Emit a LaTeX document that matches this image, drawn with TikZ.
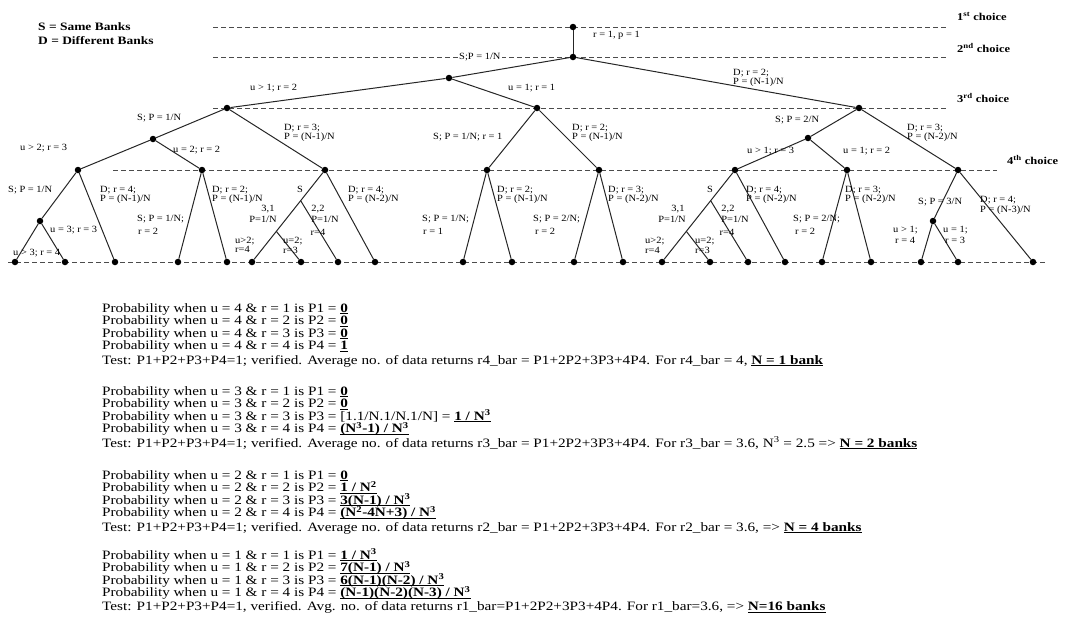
\documentclass[tikz,border=0pt]{standalone}
\usepackage{fontspec}
\setmainfont{Liberation Serif}
\newfontfamily\txtfont{Liberation Serif}[FakeStretch=1.19]
\newfontfamily\lblfont{Liberation Serif}[FakeStretch=1.1]
\usetikzlibrary{calc}
\tikzset{
  bdot/.style={circle,fill=black,inner sep=0pt,minimum size=6.5pt},
  branch/.style={draw=black!85,line width=1pt},
  guide/.style={draw=black!70,line width=0.9pt,dash pattern=on 5pt off 3pt},
  lbl/.style={anchor=mid west,inner sep=0pt,font=\lblfont\fontsize{9.5}{10}\selectfont},
  lblc/.style={anchor=mid,inner sep=0pt,font=\lblfont\fontsize{9.5}{10}\selectfont},
  txt/.style={anchor=mid west,inner sep=0pt,font=\txtfont\fontsize{12.8}{13}\selectfont},
  choicelbl/.style={anchor=mid west,inner sep=0pt,font=\txtfont\bfseries\fontsize{10.5}{11}\selectfont},
  legendlbl/.style={anchor=mid west,inner sep=0pt,font=\txtfont\bfseries\fontsize{11.3}{12}\selectfont},
}
\newcommand{\ul}[1]{\setbox0\hbox{\textbf{#1}}\rlap{\rule[-1.7pt]{\wd0}{0.8pt}}\box0}
\newcommand{\sps}[1]{\textsuperscript{#1}}
\begin{document}
\begin{tikzpicture}[x=1pt,y=-1pt]
\useasboundingbox (0,0) rectangle (1090,635);
% guide lines
\draw[guide] (213,27) -- (947,27);
\draw[guide] (213,57) -- (947,57);
\draw[guide] (213,108) -- (947,108);
\draw[guide] (113,170) -- (997,170);
\draw[guide] (8,262) -- (1047,262);
% choice labels
\node[choicelbl] (c1) at (957,18) {1\sps{st} choice};
\node[choicelbl] (c2) at (957,50) {2\sps{nd} choice};
\node[choicelbl] (c3) at (957,100) {3\sps{rd} choice};
\node[choicelbl] (c4) at (1007,162) {4\sps{th} choice};
% legend
\node[legendlbl] (lg1) at (38,28) {S = Same Banks};
\node[legendlbl] (lg2) at (38,42) {D = Different Banks};
% nodes
\node[bdot] (n1) at (573,27) {};
\node[bdot] (n2) at (573,57) {};
\node[bdot] (s1) at (449,78) {};
\node[bdot] (a) at (227,108) {};
\node[bdot] (f) at (537,108) {};
\node[bdot] (g) at (859,108) {};
\node[bdot] (b) at (153,139) {};
\node[bdot] (c) at (78,170) {};
\node[bdot] (bb) at (202,170) {};
\node[bdot] (e) at (325,170) {};
\node[bdot] (d) at (40,221) {};
\node[bdot] (fl) at (487,170) {};
\node[bdot] (fr) at (599,170) {};
\node[bdot] (h) at (808,138) {};
\node[bdot] (i) at (958,170) {};
\node[bdot] (j) at (735,170) {};
\node[bdot] (k) at (847,170) {};
\node[bdot] (m) at (933,221) {};
\foreach \n/\x in {1/15,2/65,3/115,4/178,5/227,6/252,7/301,8/338,9/375,10/463,11/512,12/574,13/623,14/662,15/710,16/748,17/785,18/822,19/871,20/921,21/958,22/1033}
  \node[bdot] (l\n) at (\x,262) {};
\coordinate (es) at ($(e)!1/3!(l6)$);
\coordinate (eb) at ($(e)!2/3!(l6)$);
\coordinate (js) at ($(j)!1/3!(l14)$);
\coordinate (jb) at ($(j)!2/3!(l14)$);
% edges
\foreach \p/\q in {n1/n2,n2/s1,n2/g,s1/a,s1/f,a/b,a/e,b/c,b/bb,c/d,c/l3,d/l1,d/l2,bb/l4,bb/l5,e/l6,e/l9,es/l8,eb/l7,f/fl,f/fr,fl/l10,fl/l11,fr/l12,fr/l13,g/h,g/i,h/j,h/k,j/l14,j/l17,js/l16,jb/l15,k/l18,k/l19,i/m,i/l22,m/l20,m/l21}
  \draw[branch] (\p) -- (\q);
% labels, top
\node[lbl] (t1) at (593,35) {r = 1, p = 1};
\node[lbl,fill=white,inner sep=1pt] (t2) at (458,57) {S;P = 1/N};
\node[lbl] (t3) at (733,73) {D; r = 2;};
\node[lbl] (t4) at (733,82) {P = (N-1)/N};
\node[lbl] (t5) at (250,88) {u > 1; r = 2};
\node[lbl] (t6) at (508,88) {u = 1; r = 1};
\node[lbl] (t7) at (137,118) {S; P = 1/N};
\node[lbl] (t8) at (284,128) {D; r = 3;};
\node[lbl] (t9) at (284,137) {P = (N-1)/N};
\node[lbl] (t10) at (775,120) {S; P = 2/N};
\node[lbl] (t11) at (907,128) {D; r = 3;};
\node[lbl] (t12) at (907,137) {P = (N-2)/N};
\node[lbl] (t13) at (20,148) {u > 2; r = 3};
\node[lbl] (t14) at (173,150) {u = 2; r = 2};
\node[lbl] (t15) at (433,137) {S; P = 1/N; r = 1};
\node[lbl] (t16) at (572,128) {D; r = 2;};
\node[lbl] (t17) at (572,137) {P = (N-1)/N};
\node[lbl] (t18) at (747,151) {u > 1; r = 3};
\node[lbl] (t19) at (843,151) {u = 1; r = 2};
% labels, lower left
\node[lbl] (t20) at (8,190) {S; P = 1/N};
\node[lbl] (t21) at (100,190) {D; r = 4;};
\node[lbl] (t22) at (100,199) {P = (N-1)/N};
\node[lbl] (t23) at (212,190) {D; r = 2;};
\node[lbl] (t24) at (212,199) {P = (N-1)/N};
\node[lbl] (t25) at (137,219) {S; P = 1/N;};
\node[lbl] (t26) at (138,232) {r = 2};
\node[lbl] (t27) at (50,230) {u = 3; r = 3};
\node[lbl] (t28) at (13,253) {u > 3; r = 4};
\node[lblc] (t29) at (300,190) {S};
\node[lbl] (t30) at (348,190) {D; r = 4;};
\node[lbl] (t31) at (348,199) {P = (N-2)/N};
\node[lblc] (t32) at (268,209) {3,1};
\node[lblc] (t33) at (263,220) {P=1/N};
\node[lblc] (t34) at (318,209) {2,2};
\node[lblc] (t35) at (325,220) {P=1/N};
\node[lblc] (t36) at (318,233) {r=4};
\node[lbl] (t37) at (235,241) {u>2;};
\node[lbl] (t38) at (235,250) {r=4};
\node[lbl] (t39) at (283,241) {u=2;};
\node[lbl] (t40) at (283,251) {r=3};
% labels, lower middle
\node[lbl] (t41) at (497,190) {D; r = 2;};
\node[lbl] (t42) at (497,199) {P = (N-1)/N};
\node[lbl] (t43) at (422,219) {S; P = 1/N;};
\node[lbl] (t44) at (423,232) {r = 1};
\node[lbl] (t45) at (608,190) {D; r = 3;};
\node[lbl] (t46) at (608,199) {P = (N-2)/N};
\node[lbl] (t47) at (533,219) {S; P = 2/N;};
\node[lbl] (t48) at (535,232) {r = 2};
% labels, lower right
\node[lblc] (t49) at (710,190) {S};
\node[lbl] (t50) at (746,190) {D; r = 4;};
\node[lbl] (t51) at (746,199) {P = (N-2)/N};
\node[lblc] (t52) at (678,209) {3,1};
\node[lblc] (t53) at (672,220) {P=1/N};
\node[lblc] (t54) at (728,209) {2,2};
\node[lblc] (t55) at (735,220) {P=1/N};
\node[lblc] (t56) at (727,233) {r=4};
\node[lbl] (t57) at (645,241) {u>2;};
\node[lbl] (t58) at (645,251) {r=4};
\node[lbl] (t59) at (695,241) {u=2;};
\node[lbl] (t60) at (695,251) {r=3};
\node[lbl] (t61) at (845,190) {D; r = 3;};
\node[lbl] (t62) at (845,199) {P = (N-2)/N};
\node[lbl] (t63) at (793,219) {S; P = 2/N;};
\node[lbl] (t64) at (795,232) {r = 2};
\node[lbl] (t65) at (918,202) {S; P = 3/N};
\node[lbl] (t66) at (980,200) {D; r = 4;};
\node[lbl] (t67) at (980,210) {P = (N-3)/N};
\node[lbl] (t68) at (893,230) {u > 1;};
\node[lbl] (t69) at (895,241) {r = 4};
\node[lbl] (t70) at (943,230) {u = 1;};
\node[lbl] (t71) at (945,241) {r = 3};
% text block u = 4
\node[txt] (p41) at (102,310) {Probability when u = 4 \& r = 1 is P1 = \ul{0}};
\node[txt] (p42) at (102,322.5) {Probability when u = 4 \& r = 2 is P2 = \ul{0}};
\node[txt] (p43) at (102,335) {Probability when u = 4 \& r = 3 is P3 = \ul{0}};
\node[txt] (p44) at (102,347.5) {Probability when u = 4 \& r = 4 is P4 = \ul{1}};
\node[txt] (p45) at (102,362) {Test: P1+P2+P3+P4=1; verified. Average no. of data returns r4\_bar = P1+2P2+3P3+4P4. For r4\_bar = 4, \ul{N = 1 bank}};
% u = 3
\node[txt] (p31) at (102,393) {Probability when u = 3 \& r = 1 is P1 = \ul{0}};
\node[txt] (p32) at (102,405.5) {Probability when u = 3 \& r = 2 is P2 = \ul{0}};
\node[txt] (p33) at (102,418) {Probability when u = 3 \& r = 3 is P3 = [1.1/N.1/N.1/N] = \ul{1 / N\sps{3}}};
\node[txt] (p34) at (102,430.5) {Probability when u = 3 \& r = 4 is P4 = \ul{(N\sps{3}-1) / N\sps{3}}};
\node[txt] (p35) at (102,445) {Test: P1+P2+P3+P4=1; verified. Average no. of data returns r3\_bar = P1+2P2+3P3+4P4. For r3\_bar = 3.6, N\sps{3} = 2.5 => \ul{N = 2 banks}};
% u = 2
\node[txt] (p21) at (102,477) {Probability when u = 2 \& r = 1 is P1 = \ul{0}};
\node[txt] (p22) at (102,489.5) {Probability when u = 2 \& r = 2 is P2 = \ul{1 / N\sps{2}}};
\node[txt] (p23) at (102,502) {Probability when u = 2 \& r = 3 is P3 = \ul{3(N-1) / N\sps{3}}};
\node[txt] (p24) at (102,514.5) {Probability when u = 2 \& r = 4 is P4 = \ul{(N\sps{2}-4N+3) / N\sps{3}}};
\node[txt] (p25) at (102,529) {Test: P1+P2+P3+P4=1; verified. Average no. of data returns r2\_bar = P1+2P2+3P3+4P4. For r2\_bar = 3.6, => \ul{N = 4 banks}};
% u = 1
\node[txt] (p11) at (102,557) {Probability when u = 1 \& r = 1 is P1 = \ul{1 / N\sps{3}}};
\node[txt] (p12) at (102,569.5) {Probability when u = 1 \& r = 2 is P2 = \ul{7(N-1) / N\sps{3}}};
\node[txt] (p13) at (102,582) {Probability when u = 1 \& r = 3 is P3 = \ul{6(N-1)(N-2) / N\sps{3}}};
\node[txt] (p14) at (102,594.5) {Probability when u = 1 \& r = 4 is P4 = \ul{(N-1)(N-2)(N-3) / N\sps{3}}};
\node[txt] (p15) at (102,608.5) {Test: P1+P2+P3+P4=1, verified. Avg. no. of data returns r1\_bar=P1+2P2+3P3+4P4. For r1\_bar=3.6, => \ul{N=16 banks}};
\end{tikzpicture}
\end{document}
